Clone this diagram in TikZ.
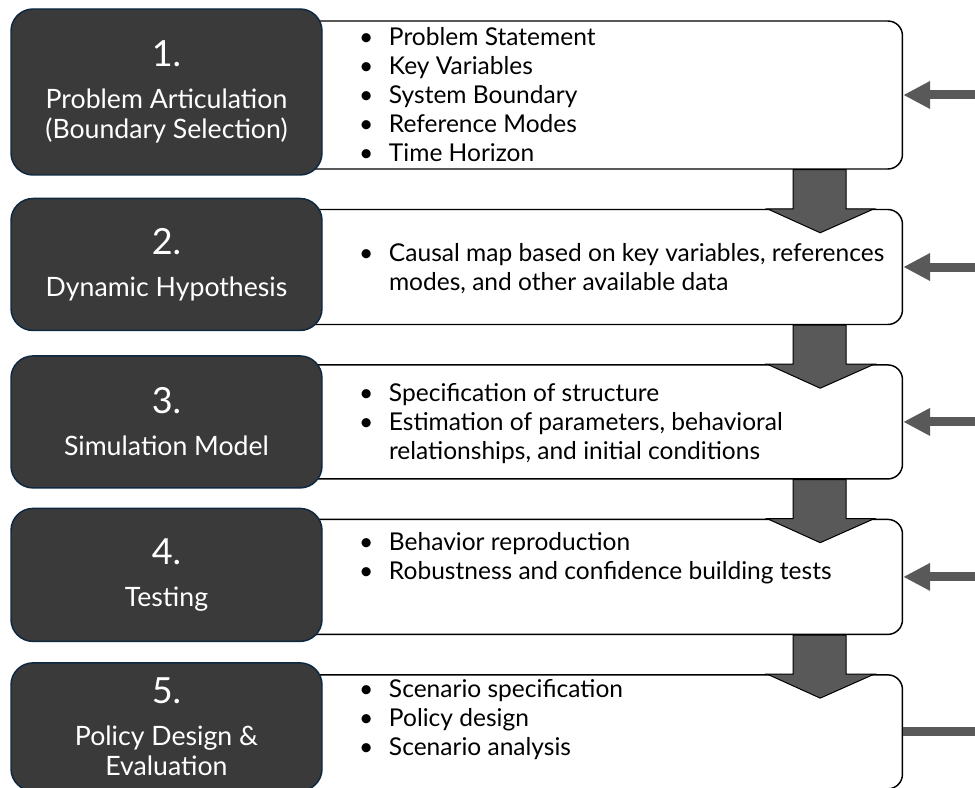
\documentclass[tikz,border=0pt]{standalone}
\usepackage{fontspec}
\setmainfont{Lato}
\usepackage{tikz}
\usetikzlibrary{positioning,calc,arrows.meta,backgrounds}
\usepackage{xcolor}
\definecolor{stagefill}{HTML}{3A3A3A}
\definecolor{stageline}{HTML}{0E2841}
\definecolor{arrowgrey}{HTML}{595959}

\begin{document}
\begin{tikzpicture}[x=0.75pt,y=-0.75pt,
  stage/.style={draw=stageline, line width=1.1pt, fill=stagefill, rounded corners=16.5pt,
    minimum width=233.25pt, text=white, align=center, font=\fontsize{20pt}{22.5pt}\selectfont},
  detail/.style={draw=black, line width=1.1pt, fill=white, rounded corners=11pt, minimum width=458.25pt},
  items/.style={anchor=west, inner sep=0pt, font=\fontsize{18.4pt}{21.75pt}\selectfont},
  flow/.style={draw=black, line width=0.75pt, fill=arrowgrey},
  feed/.style={draw=arrowgrey, line width=6.75pt, -{Triangle[length=20.25pt,width=19.5pt]}}]
\useasboundingbox (0,0) rectangle (975,788);

\node[stage, minimum height=124.5pt] (s1) at (166.5,92) {{\fontsize{27pt}{28.5pt}\selectfont 1.}\\[9pt]Problem Articulation\\(Boundary Selection)};
\node[stage, minimum height=99pt, below=16.5pt of s1] (s2) {{\fontsize{27pt}{28.5pt}\selectfont 2.}\\[9pt]Dynamic Hypothesis};
\node[stage, minimum height=99pt, below=18pt of s2] (s3) {{\fontsize{27pt}{28.5pt}\selectfont 3.}\\[9pt]Simulation Model};
\node[stage, minimum height=99.75pt, below=14.25pt of s3] (s4) {{\fontsize{27pt}{28.5pt}\selectfont 4.}\\[9pt]Testing};
\node[stage, minimum height=96pt, below=15pt of s4] (s5) {{\fontsize{27pt}{28.5pt}\selectfont 5.}\\[9pt]Policy Design \&\\Evaluation};

\begin{scope}[on background layer]
\node[detail, minimum height=111pt, right=-24pt of s1, yshift=-2.25pt] (w1) {};
\node[detail, minimum height=86.25pt, right=-24pt of s2, yshift=-1.9pt] (w2) {};
\node[detail, minimum height=85.5pt, right=-24pt of s3] (w3) {};
\node[detail, minimum height=86.25pt, right=-24pt of s4, yshift=-1.5pt] (w4) {};
\node[detail, minimum height=85.5pt, right=-24pt of s5, yshift=-3.75pt] (w5) {};
\end{scope}

\node[items] (t1) at ([xshift=51pt,yshift=-2.25pt]w1.west) {\begin{tabular}{@{}p{22.5pt}@{}l@{}}
\textbullet & Problem Statement\\
\textbullet & Key Variables\\
\textbullet & System Boundary\\
\textbullet & Reference Modes\\
\textbullet & Time Horizon
\end{tabular}};
\node[items] (t2) at ([xshift=51pt,yshift=-2.25pt]w2.west) {\begin{tabular}{@{}p{22.5pt}@{}l@{}}
\textbullet & Causal map based on key variables, references\\
 & modes, and other available data
\end{tabular}};
\node[items] (t3) at ([xshift=51pt,yshift=-2.25pt]w3.west) {\begin{tabular}{@{}p{22.5pt}@{}l@{}}
\textbullet & Specification of structure\\
\textbullet & Estimation of parameters, behavioral\\
 & relationships, and initial conditions
\end{tabular}};
\node[items] (t4) at ([xshift=51pt,yshift=13.5pt]w4.west) {\begin{tabular}{@{}p{22.5pt}@{}l@{}}
\textbullet & Behavior reproduction\\
\textbullet & Robustness and confidence building tests
\end{tabular}};
\node[items] (t5) at ([xshift=51pt,yshift=8.25pt]w5.west) {\begin{tabular}{@{}p{22.5pt}@{}l@{}}
\textbullet & Scenario specification\\
\textbullet & Policy design\\
\textbullet & Scenario analysis
\end{tabular}};

\coordinate (in1) at (975,0 |- w1.east);
\coordinate (in2) at (975,0 |- w2.east);
\coordinate (in3) at (975,0 |- w3.east);
\coordinate (in4) at (975,0 |- w4.east);
\coordinate (in5) at (975,0 |- w5.east);

\draw[flow] ($(w1.south east)+(-110,0)$) -- ($(w2.north east)+(-110,0)$) -- ($(w2.north east)+(-136,0)$) -- ($(w2.north east)+(-83,24)$) -- ($(w2.north east)+(-29,0)$) -- ($(w2.north east)+(-57,0)$) -- ($(w1.south east)+(-57,0)$) -- cycle;
\draw[flow] ($(w2.south east)+(-110,0)$) -- ($(w3.north east)+(-110,0)$) -- ($(w3.north east)+(-136,0)$) -- ($(w3.north east)+(-83,24)$) -- ($(w3.north east)+(-29,0)$) -- ($(w3.north east)+(-57,0)$) -- ($(w2.south east)+(-57,0)$) -- cycle;
\draw[flow] ($(w3.south east)+(-110,0)$) -- ($(w4.north east)+(-110,0)$) -- ($(w4.north east)+(-136,0)$) -- ($(w4.north east)+(-83,24)$) -- ($(w4.north east)+(-29,0)$) -- ($(w4.north east)+(-57,0)$) -- ($(w3.south east)+(-57,0)$) -- cycle;
\draw[flow] ($(w4.south east)+(-110,0)$) -- ($(w5.north east)+(-110,0)$) -- ($(w5.north east)+(-136,0)$) -- ($(w5.north east)+(-83,24)$) -- ($(w5.north east)+(-29,0)$) -- ($(w5.north east)+(-57,0)$) -- ($(w4.south east)+(-57,0)$) -- cycle;

\draw[feed] (in1) -- (w1.east);
\draw[feed] (in2) -- (w2.east);
\draw[feed] (in3) -- (w3.east);
\draw[feed] (in4) -- (w4.east);
\draw[feed, -] (in5) -- (w5.east);
\end{tikzpicture}
\end{document}
